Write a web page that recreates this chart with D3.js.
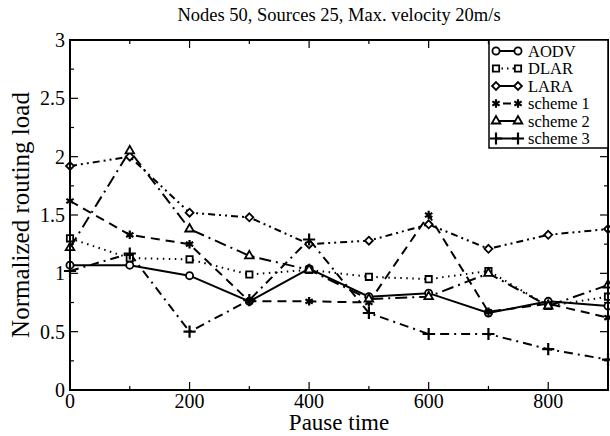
<!DOCTYPE html>
<html lang="en">
<head>
    <meta charset="UTF-8">
    <title>Normalized routing load</title>
    <script src="https://d3js.org/d3.v7.min.js"></script>
    <style>
        body { margin: 0; background: #fff; }
        svg { font-family: "Liberation Serif", "DejaVu Serif", serif; }
    </style>
</head>
<body>
    <div id="chart"></div>

    <script>
        // values
        const pauseTimes = [0, 100, 200, 300, 400, 500, 600, 700, 800, 900];
        const aodv    = [1.07, 1.07, 0.98, 0.76, 1.04, 0.80, 0.83, 0.66, 0.76, 0.72];
        const dlar    = [1.30, 1.13, 1.12, 0.99, 1.03, 0.97, 0.95, 1.02, 0.72, 0.80];
        const lara    = [1.92, 2.00, 1.52, 1.48, 1.25, 1.28, 1.42, 1.21, 1.33, 1.38];
        const scheme1 = [1.62, 1.33, 1.25, 0.76, 0.76, 0.75, 1.50, 0.67, 0.74, 0.62];
        const scheme2 = [1.22, 2.05, 1.38, 1.15, 1.03, 0.78, 0.80, 1.00, 0.72, 0.90];
        const scheme3 = [1.02, 1.17, 0.50, 0.77, 1.29, 0.66, 0.48, 0.48, 0.35, 0.26];
        const xTicks = [0, 200, 400, 600, 800];
        const yTicks = [0, 0.5, 1, 1.5, 2, 2.5, 3];

        const series = [
            { name: "AODV", values: aodv, symbol: d3.symbolCircle, size: 40, dash: null, legendDash: null, fill: "#fff" },
            { name: "DLAR", values: dlar, symbol: d3.symbolSquare, size: 40, dash: "1.5,4.5", legendDash: "1.5,4", fill: "#fff" },
            { name: "LARA", values: lara, symbol: d3.symbolDiamond2, size: 40, dash: "7,4,2,4,2,4", legendDash: null, fill: "#fff" },
            { name: "scheme 1", values: scheme1, symbol: d3.symbolAsterisk, size: 50, dash: "9,6", legendDash: "0,7,8,8", fill: "none", stroked: true },
            { name: "scheme 2", values: scheme2, symbol: d3.symbolTriangle, size: 32, dash: "12,5,2,5", legendDash: null, fill: "#fff" },
            { name: "scheme 3", values: scheme3, symbol: d3.symbolPlus, size: 50, dash: "9,5,2,5", legendDash: null, fill: "none", stroked: true }
        ];

        const W = 610, H = 436;
        const margin = { top: 40, right: 2, bottom: 46, left: 70 };
        const width = W - margin.left - margin.right,
            height = H - margin.top - margin.bottom;

        const svg = d3.select("#chart")
            .append("svg")
            .attr("width", W)
            .attr("height", H);

        const g = svg.append("g")
            .attr("transform", `translate(${margin.left},${margin.top})`);

        const x = d3.scaleLinear().domain([0, 900]).range([0, width]);
        const y = d3.scaleLinear().domain([0, 3]).range([height, 0]);

        // inward ticks on all four sides
        const tickG = g.append("g").attr("stroke", "#000").attr("stroke-width", 1.2);
        d3.range(0, 901, 100).forEach(v => {
            const len = v % 200 === 0 ? 8 : 4;
            tickG.append("line").attr("x1", x(v)).attr("x2", x(v)).attr("y1", height).attr("y2", height - len);
            tickG.append("line").attr("x1", x(v)).attr("x2", x(v)).attr("y1", 0).attr("y2", len);
        });
        d3.range(0, 3.01, 0.25).forEach(v => {
            const len = Math.abs(v * 2 - Math.round(v * 2)) < 1e-6 ? 8 : 4;
            tickG.append("line").attr("x1", 0).attr("x2", len).attr("y1", y(v)).attr("y2", y(v));
            tickG.append("line").attr("x1", width).attr("x2", width - len).attr("y1", y(v)).attr("y2", y(v));
        });

        // tick labels
        g.append("g")
            .selectAll("text")
            .data(xTicks)
            .enter()
            .append("text")
            .attr("x", d => x(d))
            .attr("y", height + 18)
            .attr("text-anchor", "middle")
            .attr("font-size", 20)
            .text(d => d);

        g.append("g")
            .selectAll("text")
            .data(yTicks)
            .enter()
            .append("text")
            .attr("x", -5)
            .attr("y", d => y(d) + 7)
            .attr("text-anchor", "end")
            .attr("font-size", 20)
            .text(d => d);

        // lines
        const line = d3.line()
            .x((d, i) => x(pauseTimes[i]))
            .y(d => y(d));

        series.forEach(s => {
            g.append("path")
                .datum(s.values)
                .attr("fill", "none")
                .attr("stroke", "#000")
                .attr("stroke-width", 2)
                .attr("stroke-dasharray", s.dash)
                .attr("d", line);
        });

        const drawSymbol = (sel, s, cx, cy) => {
            sel.append("path")
                .attr("d", d3.symbol().type(s.symbol).size(s.size)())
                .attr("transform", `translate(${cx},${cy})`)
                .attr("fill", s.fill)
                .attr("stroke", "#000")
                .attr("stroke-width", s.stroked ? 2.2 : 1.8);
        };

        series.forEach(s => {
            const mg = g.append("g");
            s.values.forEach((v, i) => drawSymbol(mg, s, x(pauseTimes[i]), y(v)));
        });

        // frame
        g.append("rect")
            .attr("width", width)
            .attr("height", height)
            .attr("fill", "none")
            .attr("stroke", "#000")
            .attr("stroke-width", 2);

        // legend
        const lg = g.append("g").attr("transform", `translate(${width - 119},0)`);
        lg.append("rect")
            .attr("width", 119)
            .attr("height", 108)
            .attr("fill", "#fff")
            .attr("stroke", "#000")
            .attr("stroke-width", 1.5);
        series.forEach((s, i) => {
            const yy = 11 + i * 17.5;
            lg.append("line")
                .attr("x1", 7).attr("x2", 29)
                .attr("y1", yy).attr("y2", yy)
                .attr("stroke", "#000")
                .attr("stroke-width", 2)
                .attr("stroke-dasharray", s.legendDash);
            drawSymbol(lg, s, 7, yy);
            drawSymbol(lg, s, 29, yy);
            lg.append("text")
                .attr("x", 39)
                .attr("y", yy + 5.5)
                .attr("font-size", 16.5)
                .text(s.name);
        });

        // title and axis labels
        svg.append("text")
            .attr("x", margin.left + width / 2)
            .attr("y", 21)
            .attr("text-anchor", "middle")
            .attr("font-size", 18.5)
            .text("Nodes 50, Sources 25, Max. velocity 20m/s");

        svg.append("text")
            .attr("x", margin.left + width / 2)
            .attr("y", 430)
            .attr("text-anchor", "middle")
            .attr("font-size", 23)
            .text("Pause time");

        svg.append("text")
            .attr("transform", `translate(29,${margin.top + height / 2}) rotate(-90)`)
            .attr("text-anchor", "middle")
            .attr("font-size", 25)
            .text("Normalized routing load");
    </script>
</body>
</html>
